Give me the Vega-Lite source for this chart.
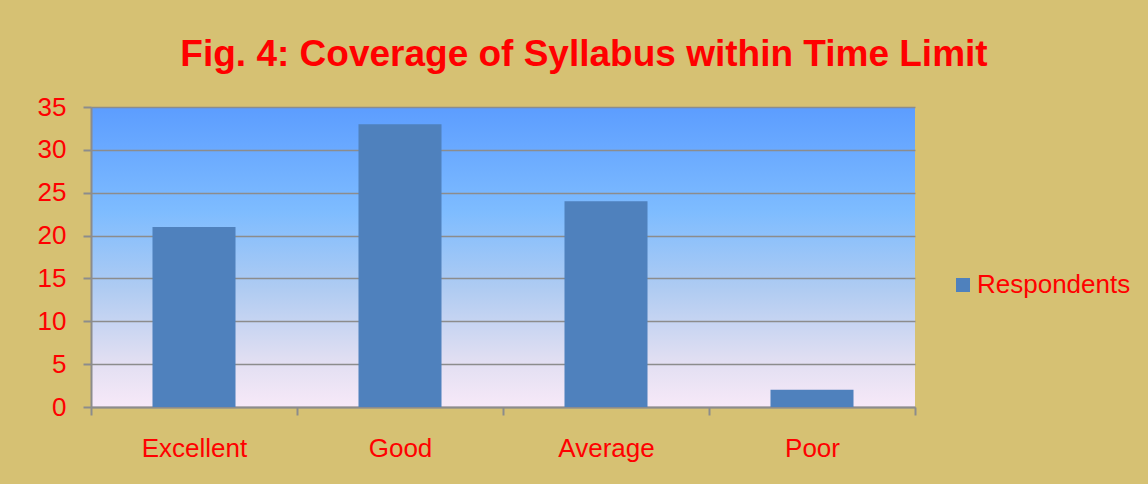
{
  "$schema": "https://vega.github.io/schema/vega-lite/v6.json",
  "width": 824,
  "height": 300,
  "autosize": {"type": "none"},
  "padding": {"left": 91, "top": 107, "right": 233, "bottom": 77},
  "background": "#D6C173",
  "title": {
    "text": "Fig. 4: Coverage of Syllabus within Time Limit",
    "color": "#FF0000",
    "font": "Liberation Sans",
    "fontSize": 37,
    "fontWeight": "bold",
    "anchor": "middle",
    "frame": "group",
    "dx": 81,
    "offset": 20
  },
  "data": {
    "values": [
      {"category": "Excellent", "value": 21, "series": "Respondents"},
      {"category": "Good", "value": 33, "series": "Respondents"},
      {"category": "Average", "value": 24, "series": "Respondents"},
      {"category": "Poor", "value": 2, "series": "Respondents"}
    ]
  },
  "mark": {"type": "bar", "width": {"band": 0.403}},
  "encoding": {
    "x": {
      "field": "category",
      "type": "nominal",
      "sort": null,
      "scale": {"paddingInner": 0, "paddingOuter": 0},
      "axis": {
        "title": null,
        "labelAngle": 0,
        "tickBand": "extent",
        "labelPadding": 20,
        "grid": false
      }
    },
    "y": {
      "field": "value",
      "type": "quantitative",
      "scale": {"domain": [0, 35], "nice": false},
      "axis": {
        "title": null,
        "values": [0, 5, 10, 15, 20, 25, 30, 35],
        "labelPadding": 17,
        "grid": true
      }
    },
    "color": {
      "field": "series",
      "type": "nominal",
      "scale": {"range": ["#4F81BD"]},
      "legend": {
        "title": null,
        "orient": "none",
        "legendX": 859,
        "legendY": 165,
        "symbolType": "square",
        "symbolSize": 196,
        "symbolStrokeWidth": 0,
        "labelOffset": 1
      }
    }
  },
  "config": {
    "view": {
      "stroke": null,
      "fill": {
        "gradient": "linear",
        "x1": 0, "y1": 0, "x2": 0, "y2": 1,
        "stops": [
          {"offset": 0, "color": "#5C9DFF"},
          {"offset": 0.35, "color": "#7EBCFF"},
          {"offset": 0.6, "color": "#AECBF2"},
          {"offset": 0.85, "color": "#E2DFF2"},
          {"offset": 1, "color": "#F7E9F8"}
        ]
      }
    },
    "axis": {
      "labelColor": "#FF0000",
      "labelFont": "Liberation Sans",
      "labelFontSize": 26,
      "domainColor": "#8C8C8C",
      "domainWidth": 2,
      "tickColor": "#8C8C8C",
      "tickWidth": 2,
      "tickSize": 8,
      "gridColor": "#8C8C8C",
      "gridWidth": 1.5
    },
    "legend": {
      "labelColor": "#FF0000",
      "labelFont": "Liberation Sans",
      "labelFontSize": 26,
      "padding": 0
    }
  }
}
